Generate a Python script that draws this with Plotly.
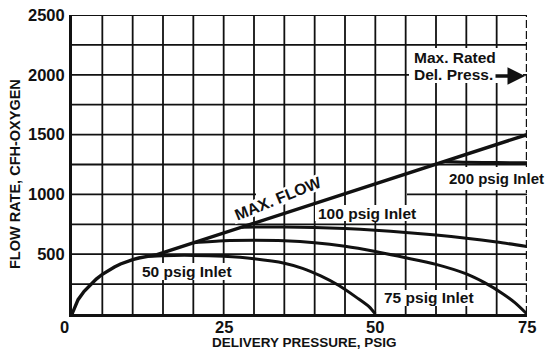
import math
import plotly.graph_objects as go

# ---------------- data ----------------
max_flow_x = [0, 0.5, 1, 2, 3, 4, 5, 6, 7, 8, 9, 10, 11, 12, 13, 14, 75]
max_flow_y = [0, 70, 120, 190, 245, 292, 332, 365, 393, 418, 438, 455, 468, 479, 488, 496, 1500]

inlet50_x = [12.5, 15, 20, 25, 30, 35, 38, 41, 44, 47, 49, 50]
inlet50_y = [482, 488, 490, 482, 462, 425, 382, 318, 238, 135, 60, 0]

inlet75_x = [20, 25, 30, 35, 40, 45, 50, 55, 60, 65, 68, 71, 73, 75]
inlet75_y = [596, 612, 616, 612, 596, 566, 522, 470, 415, 335, 262, 170, 95, 0]

inlet100_x = [28, 32, 35, 40, 45, 50, 55, 60, 65, 70, 75]
inlet100_y = [726, 728, 728, 724, 715, 700, 682, 660, 634, 602, 565]

inlet200_x = [61.5, 65, 70, 75]
inlet200_y = [1275, 1268, 1266, 1265]

x_tick_vals = [0, 25, 50, 75]
x_tick_text = ["0", "25", "50", "75"]
y_tick_vals = [500, 1000, 1500, 2000, 2500]
X_MAX, Y_MAX = 75, 2500
X_GRID, Y_GRID = 5, 250

# ---------------- layout geometry (page pixels) ----------------
W, H = 546, 354
PL, PR, PT, PB = 72, 527, 15, 314
INK = "#111111"
FONT = "Liberation Sans"


def dx(px):
    return (px - PL) / (PR - PL) * X_MAX


def dy(py):
    return (PB - py) / (PB - PT) * Y_MAX


def pxp(px):
    return (px - PL) / (PR - PL)


def pyp(py):
    return (PB - py) / (PB - PT)


fig = go.Figure()
series = [
    (max_flow_x, max_flow_y, "linear", 3.4),
    (inlet50_x, inlet50_y, "spline", 3),
    (inlet75_x, inlet75_y, "spline", 3),
    (inlet100_x, inlet100_y, "spline", 3),
    (inlet200_x, inlet200_y, "spline", 3),
]
for xs, ys, shp, w in series:
    fig.add_trace(go.Scatter(x=xs, y=ys, mode="lines", cliponaxis=False,
                             line=dict(color=INK, width=w, shape=shp, smoothing=0.7),
                             hoverinfo="skip", showlegend=False))

shapes = []
gw = 1.8
for gx in range(X_GRID, X_MAX, X_GRID):
    shapes.append(dict(type="line", layer="below", x0=gx, x1=gx, y0=0, y1=Y_MAX,
                       line=dict(color=INK, width=gw)))
for gy in range(Y_GRID, Y_MAX, Y_GRID):
    if gy == 1000:
        segs = [(0, dx(256)), (dx(407), X_MAX)]
    else:
        segs = [(0, X_MAX)]
    for a, b in segs:
        shapes.append(dict(type="line", layer="below", x0=a, x1=b, y0=gy, y1=gy,
                           line=dict(color=INK, width=gw)))
# top border
shapes.append(dict(type="line", layer="below", x0=0, x1=X_MAX, y0=Y_MAX, y1=Y_MAX,
                   line=dict(color=INK, width=2.2)))
# dashed max rated delivery pressure line
shapes.append(dict(type="line", layer="below", x0=X_MAX, x1=X_MAX, y0=0, y1=Y_MAX,
                   line=dict(color=INK, width=2.4, dash="8px,3px")))


def mask(px0, px1, py0, py1):
    shapes.append(dict(type="rect", layer="below", x0=dx(px0), x1=dx(px1),
                       y0=dy(py1), y1=dy(py0), fillcolor="white", line=dict(width=0)))


mask(409, 523, 48, 83)      # Max. Rated Del. Press.
mask(444, 546, 167, 190)    # 200 psig Inlet
mask(315, 419, 205, 221)    # 100 psig Inlet
mask(139, 235, 263, 280)    # 50 psig Inlet
mask(382, 476, 290, 306)    # 75 psig Inlet

# rotated mask behind MAX. FLOW
cx, cy, ang = 278, 198.5, math.radians(22)
ux, uy = math.cos(ang), -math.sin(ang)
nx, ny = math.sin(ang), math.cos(ang)
hw, hh = 49, 8
pts = []
for su, sn in [(-1, -1), (1, -1), (1, 1), (-1, 1)]:
    pxx = cx + su * hw * ux + sn * hh * nx
    pyy = cy + su * hw * uy + sn * hh * ny
    pts.append((dx(pxx), dy(pyy)))
path = "M " + " L ".join(f"{a},{b}" for a, b in pts) + " Z"
shapes.append(dict(type="path", layer="below", path=path, fillcolor="white",
                   line=dict(width=0)))

lab = dict(family=FONT, size=15.5, color=INK, weight="bold")
tickfont = dict(family=FONT, size=16.5, color=INK, weight="bold")
annotations = [
    dict(text="MAX. FLOW", x=pxp(278), y=pyp(198.5), textangle=-22,
         font=dict(family=FONT, size=16, color=INK, weight="bold")),
    dict(text="100 psig Inlet", x=pxp(367), y=pyp(213.5), font=lab),
    dict(text="200 psig Inlet", x=pxp(447), y=pyp(178), xanchor="left",
         font=dict(family=FONT, size=15, color=INK, weight="bold")),
    dict(text="50 psig Inlet", x=pxp(187), y=pyp(271.5), font=lab),
    dict(text="75 psig Inlet", x=pxp(429), y=pyp(297.5), font=lab),
    dict(text="Max. Rated", x=pxp(412), y=pyp(57.5), xanchor="left", font=lab),
    dict(text="Del. Press.", x=pxp(412), y=pyp(74), xanchor="left", font=lab),
    dict(text="DELIVERY PRESSURE, PSIG", x=pxp(304), y=pyp(342.5),
         font=dict(family=FONT, size=13.5, color=INK, weight="bold")),
    dict(text="FLOW RATE, CFH-OXYGEN", x=pxp(15), y=pyp(174), textangle=-90,
         font=dict(family=FONT, size=14.5, color=INK, weight="bold")),
]
# x tick labels (the "0" sits a little left of the origin in the reference)
for v, t in zip(x_tick_vals, x_tick_text):
    shift = -8 if v == 0 else 0
    annotations.append(dict(text=t, x=v / X_MAX, y=pyp(326.5), xshift=shift,
                            font=tickfont))
for a in annotations:
    a.setdefault("xanchor", "center")
    a.update(xref="paper", yref="paper", yanchor="middle", showarrow=False)
annotations.append(dict(text="", xref="paper", yref="paper", axref="pixel", ayref="pixel",
                        x=pxp(525), y=pyp(76), ax=-31, ay=0, showarrow=True,
                        arrowhead=2, arrowsize=1, arrowwidth=3.5, arrowcolor=INK))

fig.update_layout(
    width=W, height=H,
    margin=dict(l=PL, r=W - PR, t=PT, b=H - PB, autoexpand=False),
    paper_bgcolor="white", plot_bgcolor="white",
    shapes=shapes, annotations=annotations,
    xaxis=dict(range=[0, X_MAX], showgrid=False, zeroline=False, showline=True,
               automargin=False, showticklabels=False,
               linecolor=INK, linewidth=3, ticks=""),
    yaxis=dict(range=[0, Y_MAX], showgrid=False, zeroline=False, showline=True,
               automargin=False, ticklabeloverflow="allow",
               linecolor=INK, linewidth=3, tickvals=y_tick_vals, ticks="", ticklen=0,
               ticklabelstandoff=1, tickfont=tickfont),
)

fig.write_html("out.html", config={"displayModeBar": False},
               post_script="document.body.style.margin='0';"
                           "document.body.style.padding='0';")
